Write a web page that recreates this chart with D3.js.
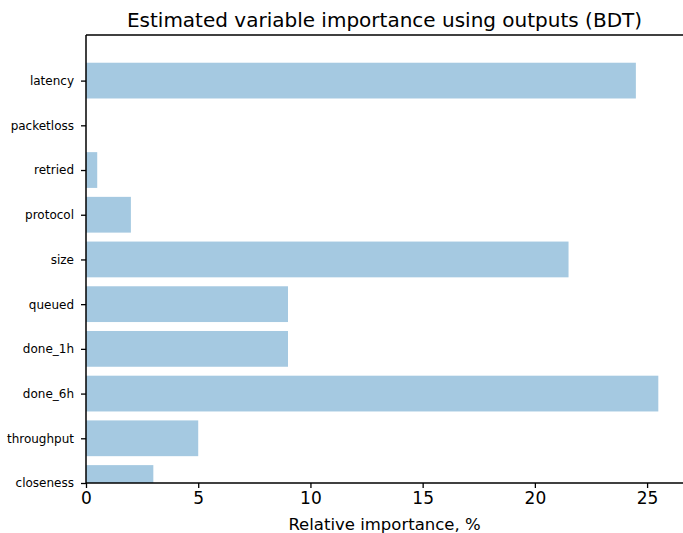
<!DOCTYPE html>
<html>
<head>
<meta charset="utf-8">
<script src="https://cdn.jsdelivr.net/npm/d3@7"></script>
<style>
  body { margin: 0; background: #fff; }
  text { font-family: "DejaVu Sans", sans-serif; fill: #000; }
</style>
</head>
<body>
<div id="chart"></div>
<script>
// data, from top to bottom of the chart
var variables = ["latency", "packetloss", "retried", "protocol", "size",
  "queued", "done_1h", "done_6h", "throughput", "closeness"];
var importance = [24.5, 0, 0.5, 2.0, 21.5, 9.0, 9.0, 25.5, 5.0, 3.0];
var xTicks = [0, 5, 10, 15, 20, 25];

var margin = { top: 35, right: 0, bottom: 50, left: 86 },
  width = 683 - margin.left - margin.right,
  height = 533 - margin.top - margin.bottom;

var svg = d3
  .select("#chart")
  .append("svg")
  .attr("width", 683)
  .attr("height", 533);

var g = svg
  .append("g")
  .attr("transform", "translate(" + margin.left + "," + margin.top + ")");

var x = d3.scaleLinear().domain([0, 26.6]).range([0, width]);

// bar positions like matplotlib barh: closeness at 0, latency at 9, ylim 0..10
var y = d3.scaleLinear().domain([0, 10.02]).range([height, 0]);
var n = variables.length;
var pos = function (i) {
  return n - 1 - i;
};

g.append("clipPath")
  .attr("id", "clip")
  .append("rect")
  .attr("width", width)
  .attr("height", height);

g.append("g")
  .attr("clip-path", "url(#clip)")
  .selectAll("rect")
  .data(importance)
  .enter()
  .append("rect")
  .attr("x", x(0))
  .attr("y", function (d, i) {
    return y(pos(i) + 0.4);
  })
  .attr("width", function (d) {
    return x(d) - x(0);
  })
  .attr("height", function (d, i) {
    return y(pos(i) - 0.4) - y(pos(i) + 0.4);
  })
  .attr("fill", "#a5c9e1");

// y axis
var yAxis = g
  .append("g")
  .call(
    d3
      .axisLeft(y)
      .tickValues(d3.range(n))
      .tickFormat(function (d) {
        return variables[n - 1 - d];
      })
      .tickSize(5)
      .tickPadding(7)
  );
yAxis.selectAll("text").style("font-size", "12px");

// x axis
var xAxis = g
  .append("g")
  .attr("transform", "translate(0," + height + ")")
  .call(d3.axisBottom(x).tickValues(xTicks).tickSize(5).tickPadding(4));
xAxis.selectAll("text").style("font-size", "17px");

[yAxis, xAxis].forEach(function (a) {
  a.select(".domain").remove();
  a.selectAll("line").attr("stroke", "#000").attr("stroke-width", 1.3);
});

// spines
g.append("line")
  .attr("x1", 0).attr("x2", 0).attr("y1", 0).attr("y2", height)
  .attr("stroke", "#000").attr("stroke-width", 1.5);
g.append("line")
  .attr("x1", 0).attr("x2", width).attr("y1", 0).attr("y2", 0)
  .attr("stroke", "#000").attr("stroke-width", 1.5);
g.append("line")
  .attr("x1", 0).attr("x2", width).attr("y1", height).attr("y2", height)
  .attr("stroke", "#000").attr("stroke-width", 1.5);

// title
svg
  .append("text")
  .attr("x", margin.left + width / 2)
  .attr("y", 27)
  .attr("text-anchor", "middle")
  .style("font-size", "20px")
  .text("Estimated variable importance using outputs (BDT)");

// x label
svg
  .append("text")
  .attr("x", margin.left + width / 2)
  .attr("y", 530)
  .attr("text-anchor", "middle")
  .style("font-size", "16.5px")
  .text("Relative importance, %");
</script>
</body>
</html>
